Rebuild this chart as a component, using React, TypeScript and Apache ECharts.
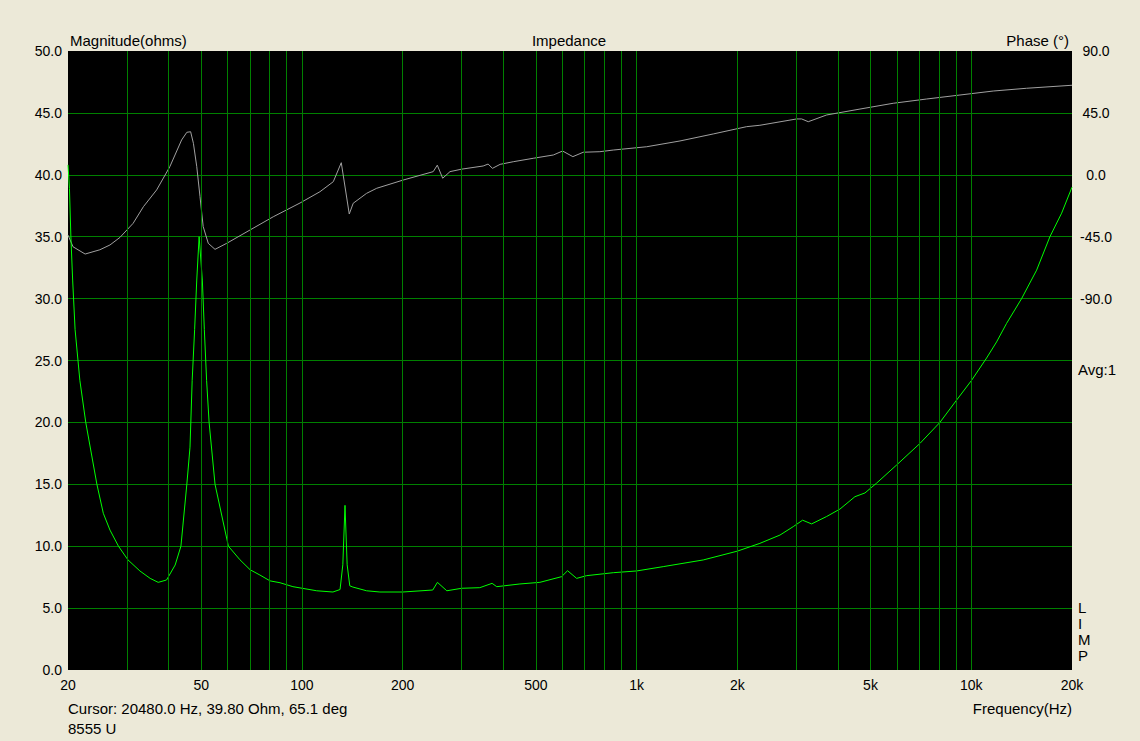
import React, { useEffect, useRef } from 'react';
import * as echarts from 'echarts';

// Magnitude (ohms) vs frequency (Hz)
const magFreq = [20, 20.2, 20.4, 20.65, 21.0, 21.7, 22.6, 24.4, 25.5, 26.7, 28.3, 30.2, 32.8, 35.2, 37.2, 39.4, 41.8, 43.5, 45.3, 46.3, 47.0, 47.8, 48.5, 49.3, 50.4, 51.1, 51.9, 52.8, 55.0, 60.3, 65.3, 70.0, 74.9, 80.3, 86.0, 94.0, 110.7, 123.8, 130, 132.5, 134.5, 136.5, 139, 142, 156, 171, 200, 246, 254, 271, 300, 340, 370, 382, 448, 514, 597, 622, 662, 709, 852, 1000, 1201, 1582, 2000, 2336, 2682, 2938, 3134, 3334, 3698, 4052, 4492, 4812, 5216, 5984, 7024, 8060, 9040, 10024, 11112, 11904, 12752, 14140, 15680, 17180, 18622, 20000];
const magnitude = [40.8, 38.9, 35.0, 31.5, 27.5, 23.4, 20.0, 15.0, 12.66, 11.3, 10.0, 8.9, 8.0, 7.4, 7.08, 7.27, 8.48, 10.0, 15.0, 18.0, 23.4, 27.5, 31.5, 35.0, 31.5, 27.5, 23.4, 20.0, 15.0, 10.0, 8.9, 8.1, 7.67, 7.2, 7.05, 6.73, 6.4, 6.3, 6.5, 8.5, 13.3, 8.5, 6.8, 6.7, 6.4, 6.3, 6.3, 6.46, 7.08, 6.4, 6.6, 6.65, 7.0, 6.73, 6.95, 7.08, 7.54, 8.02, 7.4, 7.62, 7.86, 8.0, 8.35, 8.89, 9.6, 10.23, 10.9, 11.58, 12.1, 11.8, 12.4, 13.0, 14.0, 14.3, 15.1, 16.56, 18.3, 20.0, 21.8, 23.4, 25.2, 26.5, 28.0, 30.0, 32.3, 35.0, 36.9, 39.0];

// Phase (deg) vs frequency (Hz)
const phaseFreq = [20, 20.7, 22.5, 24.9, 26.7, 28.6, 31.3, 33.6, 36.8, 40.3, 43.7, 45.3, 46.5, 47.4, 48.5, 49.6, 50.7, 52.5, 55.0, 59.6, 70, 82.1, 98.7, 113.2, 124.1, 131.1, 138.5, 142.3, 156, 167.3, 200.8, 246.8, 253.8, 263.4, 277, 300, 348, 360, 371, 391, 428, 491, 564, 601, 645, 693, 777, 852, 1072, 1348, 1695, 2133, 2336, 3008, 3114, 3258, 3698, 4650, 5846, 7356, 9250, 11632, 14630, 20000];
const phase = [-43.8, -52.3, -57.6, -54.5, -51.0, -45.5, -35.3, -23.2, -11.0, 5.9, 25.3, 30.9, 31.3, 22.9, 5.9, -15.9, -37.7, -49.8, -54.2, -49.8, -40.1, -30.5, -20.5, -12.3, -5.0, 8.8, -28.5, -20.7, -13.5, -9.8, -3.8, 2.3, 7.0, -2.5, 2.3, 4.1, 6.4, 7.8, 4.7, 7.6, 9.5, 12.0, 14.4, 17.3, 13.2, 16.4, 16.8, 18.0, 20.4, 24.6, 29.7, 35.0, 36.0, 40.6, 40.6, 38.6, 43.5, 47.8, 52.0, 55.1, 58.0, 60.9, 62.9, 65.1];

// Vertical grid lines and frequency tick labels
const gridFreqs = [30, 40, 50, 60, 70, 80, 90, 100, 200, 300, 400, 500, 600, 700, 800, 900, 1000, 2000, 3000, 4000, 5000, 6000, 7000, 8000, 9000, 10000];
const labelFreqs = [20, 50, 100, 200, 500, 1000, 2000, 5000, 10000, 20000];
const labelTexts = ['20', '50', '100', '200', '500', '1k', '2k', '5k', '10k', '20k'];

const FONT = 'Liberation Sans';
const FS = 14;
const FS_TEXT = 15;
const GRID_GREEN = '#008000';

export default function App() {
  const ref = useRef<HTMLDivElement>(null);

  useEffect(() => {
    document.body.style.margin = '0';
    if (!ref.current) return;
    const chart = echarts.init(ref.current, null, { renderer: 'svg' });

    const markData: any[] = gridFreqs.map((f) => {
      const idx = labelFreqs.indexOf(f);
      return { xAxis: f, name: idx >= 0 ? labelTexts[idx] : '', label: { show: idx >= 0 } };
    });
    [20, 20000].forEach((f) => {
      const idx = labelFreqs.indexOf(f);
      markData.push({ xAxis: f, name: labelTexts[idx], lineStyle: { color: 'rgba(0,0,0,0)' } });
    });

    const txt = (text: string, x: number, y: number, align: string, va = 'middle', extra: any = {}) => ({
      type: 'text', x, y, silent: true,
      style: { text, fill: '#000', fontSize: FS_TEXT, fontFamily: FONT, align, verticalAlign: va, ...extra },
    });

    chart.setOption({
      animation: false,
      backgroundColor: '#ECE9D8',
      textStyle: { fontFamily: FONT },
      grid: { left: 68, top: 51, width: 1004, height: 619, show: true, backgroundColor: '#000000', borderWidth: 0 },
      xAxis: {
        type: 'log', logBase: 10, min: 20, max: 20000,
        axisLine: { show: false }, axisTick: { show: false }, axisLabel: { show: false }, splitLine: { show: false },
      },
      yAxis: [
        {
          type: 'value', min: 0, max: 50, interval: 5, position: 'left',
          axisLine: { show: false }, axisTick: { show: false },
          axisLabel: { color: '#000', fontSize: FS, fontFamily: FONT, margin: 6, formatter: (v: number) => v.toFixed(1) },
          splitLine: { show: true, showMinLine: false, showMaxLine: false, lineStyle: { color: GRID_GREEN, width: 1 } },
        },
        {
          type: 'value', min: -360, max: 90, interval: 45, position: 'right',
          axisLine: { show: false }, axisTick: { show: false },
          axisLabel: { color: '#000', fontSize: FS, fontFamily: FONT, margin: 24, align: 'center', formatter: (v: number) => (v >= -90 ? v.toFixed(1) : '') },
          splitLine: { show: false },
        },
      ],
      series: [
        {
          type: 'line', name: 'grid', data: [[20, 0]], symbol: 'none', silent: true, z: 1,
          lineStyle: { opacity: 0 },
          markLine: {
            silent: true, symbol: ['none', 'none'], animation: false,
            lineStyle: { color: GRID_GREEN, width: 1, type: 'solid' },
            label: { show: true, position: 'start', formatter: '{b}', color: '#000', fontSize: FS, fontFamily: FONT, distance: 8 },
            emphasis: { disabled: true },
            data: markData,
          },
        },
        {
          type: 'line', name: 'Phase', yAxisIndex: 1, symbol: 'none', z: 3, silent: true,
          lineStyle: { color: '#a0a0a0', width: 1 },
          data: phaseFreq.map((f, i) => [f, phase[i]]),
        },
        {
          type: 'line', name: 'Magnitude', yAxisIndex: 0, symbol: 'none', z: 4, silent: true,
          lineStyle: { color: '#00ff00', width: 1 },
          data: magFreq.map((f, i) => [f, magnitude[i]]),
        },
      ],
      graphic: [
        txt('Magnitude(ohms)', 70, 40, 'left'),
        txt('Impedance', 569, 40, 'center'),
        txt('Phase (°)', 1069, 40, 'right'),
        txt('Avg:1', 1078, 369, 'left'),
        txt('L\nI\nM\nP', 1078, 599, 'left', 'top', { lineHeight: 16 }),
        txt('Cursor: 20480.0 Hz, 39.80 Ohm, 65.1 deg', 68, 708, 'left'),
        txt('8555 U', 68, 728, 'left'),
        txt('Frequency(Hz)', 1072, 708, 'right'),
      ],
    });

    return () => chart.dispose();
  }, []);

  return <div ref={ref} style={{ width: 1140, height: 741 }} />;
}
